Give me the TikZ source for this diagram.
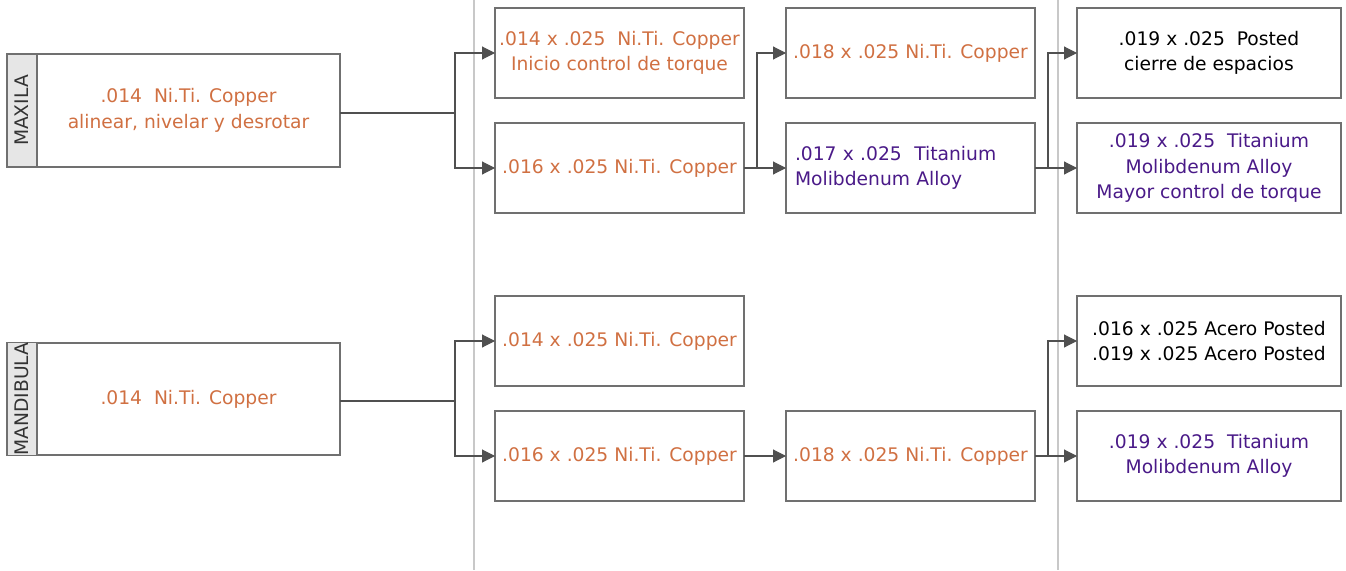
\documentclass[tikz,border=0pt]{standalone}
\usepackage{fontspec}
\setmainfont{DejaVu Sans}
\usetikzlibrary{arrows.meta,positioning}

\definecolor{wireorange}{RGB}{208,112,66}
\definecolor{wirepurple}{RGB}{74,26,136}
\definecolor{boxgray}{RGB}{112,112,112}
\definecolor{linegray}{RGB}{80,80,80}
\definecolor{tabgray}{RGB}{230,230,230}
\definecolor{sepgray}{RGB}{200,200,200}

\tikzset{
  wire/.style={draw=linegray, line width=1.1pt},
  arr/.style={wire, -{Triangle[length=13pt,width=13pt]}},
  sepline/.style={draw=sepgray, line width=1.4pt},
  wirebox/.style={draw=boxgray, line width=1.2pt, inner sep=0pt, outer sep=0pt,
    minimum height=90pt, align=center, font=\fontsize{18.7}{25.5}\selectfont},
  colbox/.style={wirebox, minimum width=249pt},
  endbox/.style={wirebox, minimum width=264pt},
  mainbox/.style={wirebox, minimum width=303pt, text=wireorange},
  tabbox/.style={wirebox, minimum width=30pt, fill=tabgray, text=black!80}
}

\begin{document}
\begin{tikzpicture}[x=1pt,y=-1pt]
\useasboundingbox (0,0) rectangle (1346,570);
% separators
\draw[sepline] (474,0) -- (474,570);
\draw[sepline] (1058,0) -- (1058,570);

% maxila
\node[mainbox, minimum height=113pt] (maxila) at (188.5,110.5) {.014~~Ni.Ti. Copper\\alinear, nivelar y desrotar};
\node[tabbox, minimum height=113pt, left=0pt of maxila] (maxtab) {\rotatebox{90}{MAXILA}};
\node[colbox, text=wireorange] (maxa) at (619.5,53) {.014 x .025~~Ni.Ti. Copper\\Inicio control de torque};
\node[colbox, text=wireorange] (maxb) at (619.5,168) {.016 x .025 Ni.Ti. Copper};
\node[colbox, text=wireorange] (maxc) at (910.5,53) {.018 x .025 Ni.Ti. Copper};
\node[colbox, text=wirepurple, text width=231pt, align=left, inner xsep=9pt] (maxd) at (910.5,168) {.017 x .025~~Titanium\\Molibdenum Alloy};
\node[endbox, text=black] (maxe) at (1209,53) {.019 x .025~~Posted\\cierre de espacios};
\node[endbox, text=wirepurple] (maxf) at (1209,168) {.019 x .025~~Titanium\\Molibdenum Alloy\\Mayor control de torque};

% mandibula
\node[mainbox, minimum height=112pt] (mandib) at (188.5,399) {.014~~Ni.Ti. Copper};
\node[tabbox, minimum height=112pt, left=0pt of mandib] (mandtab) {\rotatebox{90}{MANDIBULA}};
\node[colbox, text=wireorange] (manda) at (619.5,341) {.014 x .025 Ni.Ti. Copper};
\node[colbox, text=wireorange] (mandb) at (619.5,456) {.016 x .025 Ni.Ti. Copper};
\node[colbox, text=wireorange] (mandc) at (910.5,456) {.018 x .025 Ni.Ti. Copper};
\node[endbox, text=black] (mandd) at (1209,341) {.016 x .025 Acero Posted\\.019 x .025 Acero Posted};
\node[endbox, text=wirepurple] (mande) at (1209,456) {.019 x .025~~Titanium\\Molibdenum Alloy};

% junctions
\coordinate (jmax) at (455,113);
\coordinate (jmaxb) at (757,168);
\coordinate (jmaxd) at (1048,168);
\coordinate (jmand) at (455,401);
\coordinate (jmandc) at (1048,456);

% connectors
\draw[wire] (maxila.east |- jmax) -- (jmax);
\draw[arr] (jmax) |- (maxa);
\draw[arr] (jmax) |- (maxb);
\draw[wire] (maxb) -- (jmaxb);
\draw[arr] (jmaxb) |- (maxc);
\draw[arr] (jmaxb) -- (maxd);
\draw[wire] (maxd) -- (jmaxd);
\draw[arr] (jmaxd) |- (maxe);
\draw[arr] (jmaxd) -- (maxf);

\draw[wire] (mandib.east |- jmand) -- (jmand);
\draw[arr] (jmand) |- (manda);
\draw[arr] (jmand) |- (mandb);
\draw[arr] (mandb) -- (mandc);
\draw[wire] (mandc) -- (jmandc);
\draw[arr] (jmandc) |- (mandd);
\draw[arr] (jmandc) -- (mande);
\end{tikzpicture}
\end{document}
